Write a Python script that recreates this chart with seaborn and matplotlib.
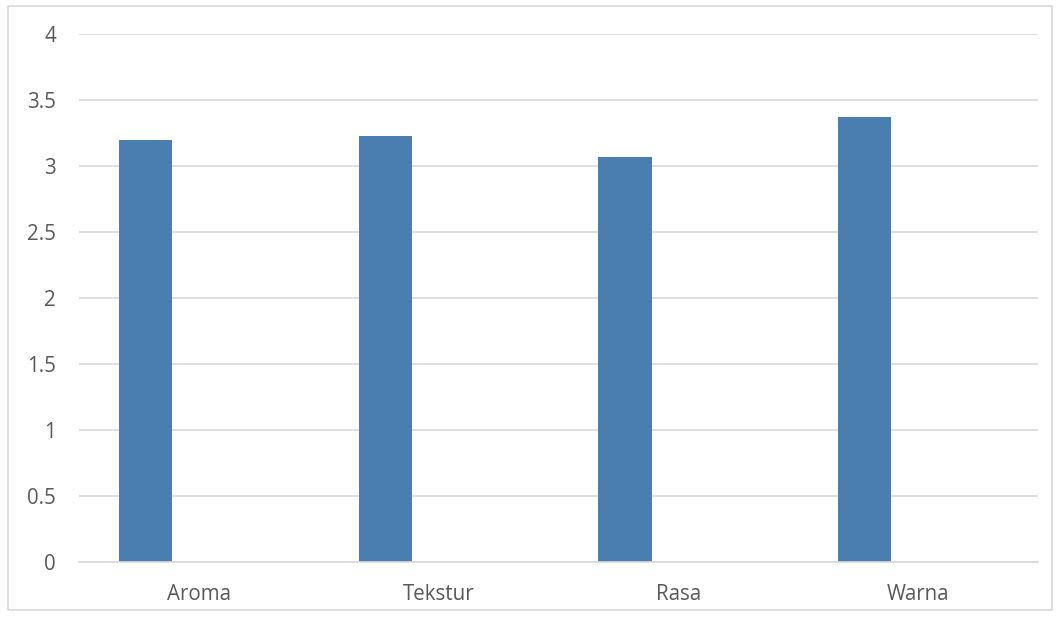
import matplotlib
matplotlib.use("Agg")
import matplotlib.pyplot as plt
import seaborn as sns
import pandas as pd
from matplotlib.patches import Rectangle

categories = ["Aroma", "Tekstur", "Rasa", "Warna"]
series1 = [3.20, 3.23, 3.07, 3.37]
series2 = [0, 0, 0, 0]
series3 = [0, 0, 0, 0]
series_names = ["Series1", "Series2", "Series3"]
yticks = [0, 0.5, 1, 1.5, 2, 2.5, 3, 3.5, 4]
ytick_labels = ["0", "0.5", "1", "1.5", "2", "2.5", "3", "3.5", "4"]

rows = []
for name, vals in zip(series_names, [series1, series2, series3]):
    for c, v in zip(categories, vals):
        rows.append({"cat": c, "series": name, "val": v})
df = pd.DataFrame(rows)

sns.set_theme(style="white")
plt.rcParams['font.family'] = ['Open Sans', 'DejaVu Sans']

W, H = 1062, 617
fig = plt.figure(figsize=(W / 100, H / 100), dpi=100)
ax = fig.add_axes([79 / W, 1 - 562 / H, (1038 - 79) / W, (562 - 34) / H])

sns.barplot(data=df, x="cat", y="val", hue="series", hue_order=series_names,
            order=categories,
            palette=["#4a7eb0", "#4a7eb0", "#4a7eb0"], width=0.667,
            linewidth=0, saturation=1, ax=ax, legend=False)

ax.set_ylim(0, 4)
ax.set_xlim(-0.5, len(categories) - 0.5)
ax.set_yticks(yticks)
ax.set_yticklabels(ytick_labels)
ax.yaxis.grid(True, color="#d9d9d9", linewidth=1.2)
ax.set_axisbelow(True)
for s in ["left", "right", "top"]:
    ax.spines[s].set_visible(False)
ax.spines["bottom"].set_color("#d9d9d9")
ax.spines["bottom"].set_linewidth(1.2)
ax.tick_params(axis="both", length=0, labelsize=14.8, colors="#595959")
ax.tick_params(axis="y", pad=16.5)
ax.tick_params(axis="x", pad=15.5)
ax.set_xlabel("")
ax.set_ylabel("")

fig.patches.append(Rectangle((8 / W, 1 - 610 / H), (1052 - 8) / W, (610 - 6) / H,
                             transform=fig.transFigure, fill=False,
                             edgecolor="#d9d9d9", linewidth=1.2))

fig.savefig("out.png", dpi=100)
